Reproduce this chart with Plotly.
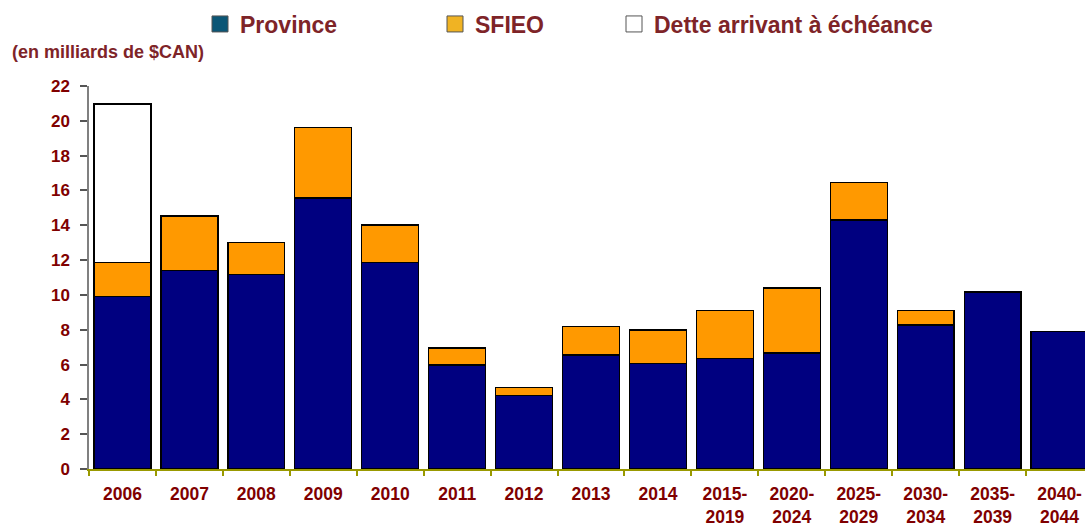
import plotly.graph_objects as go

categories = ["2006", "2007", "2008", "2009", "2010", "2011", "2012", "2013", "2014",
              "2015-<br>2019", "2020-<br>2024", "2025-<br>2029", "2030-<br>2034",
              "2035-<br>2039", "2040-<br>2044"]
province = [9.92, 11.40, 11.17, 15.56, 11.85, 5.98, 4.22, 6.55, 6.06, 6.36, 6.67, 14.31, 8.28, 10.16, 7.88]
sfieo = [1.93, 3.13, 1.83, 4.05, 2.17, 0.97, 0.45, 1.65, 1.92, 2.76, 3.72, 2.14, 0.84, None, None]
dette = [9.12, None, None, None, None, None, None, None, None, None, None, None, None, None, None]
y_ticks = [0, 2, 4, 6, 8, 10, 12, 14, 16, 18, 20, 22]

TICK_RED = "#800000"
TEXT_RED = "#7E2428"
FONT = "Liberation Sans, Arial, sans-serif"

fig = go.Figure()
bar_line = dict(color="#000000", width=1.3)
fig.add_trace(go.Bar(x=categories, y=province, marker=dict(color="#000080", line=bar_line),
                     width=0.85, showlegend=False, name="Province"))
fig.add_trace(go.Bar(x=categories, y=sfieo, marker=dict(color="#FF9900", line=bar_line),
                     width=0.85, showlegend=False, name="SFIEO"))
fig.add_trace(go.Bar(x=categories, y=dette, marker=dict(color="#FFFFFF", line=bar_line),
                     width=0.85, showlegend=False, name="Dette arrivant à échéance"))

# legend entries (legend swatch colours differ from bar colours in the original)
legend_items = [("Province", "#0B5676", "legend"),
                ("SFIEO", "#F0B323", "legend2"),
                ("Dette arrivant à échéance", "#FFFFFF", "legend3")]
for name, col, lg in legend_items:
    fig.add_trace(go.Scatter(x=[None], y=[None], mode="markers", name=name, legend=lg,
                             marker=dict(symbol="square", size=16, color=col,
                                         line=dict(color="#555555", width=1))))

leg_font = dict(family=FONT, size=23, color=TEXT_RED, weight="bold")
leg_common = dict(orientation="h", xref="container", yref="container", yanchor="middle",
                  xanchor="left", y=1 - 24 / 527, font=leg_font, bgcolor="rgba(0,0,0,0)",
                  itemsizing="trace")

fig.update_layout(
    width=1085, height=527,
    margin=dict(l=89, r=0, t=86, b=55),
    paper_bgcolor="white", plot_bgcolor="white",
    barmode="stack",
    font=dict(family=FONT),
    legend=dict(x=(221 - 21) / 1085, **leg_common),
    legend2=dict(x=(456 - 21) / 1085, **leg_common),
    legend3=dict(x=(635 - 21) / 1085, **leg_common),
    xaxis=dict(type="category", range=[-0.5, 14.38], showgrid=False,
               showline=True, linecolor="#999900", linewidth=2,
               ticks="outside", tickson="boundaries", ticklen=5, tickcolor="#999900", tickwidth=1.5,
               tickfont=dict(family=FONT, size=17.5, color=TICK_RED, weight="bold"),
               ticklabelstandoff=8),
    yaxis=dict(range=[0, 22], tickvals=y_ticks, showgrid=False, zeroline=False,
               showline=True, linecolor="#808080", linewidth=1.5,
               ticks="outside", ticklen=7, tickcolor="#555555", tickwidth=1.5,
               tickfont=dict(family=FONT, size=17, color=TICK_RED, weight="bold"),
               ticklabelstandoff=7),
    annotations=[dict(text="(en milliards de $CAN)", xref="paper", yref="paper",
                      x=(10 - 89) / 996, y=1 + (86 - 52) / 386, xanchor="left", yanchor="middle",
                      showarrow=False, font=dict(family=FONT, size=18, color=TEXT_RED, weight="bold"))],
)

fig.write_html("out.html", config={"displayModeBar": False},
               post_script="document.body.style.margin='0';")
